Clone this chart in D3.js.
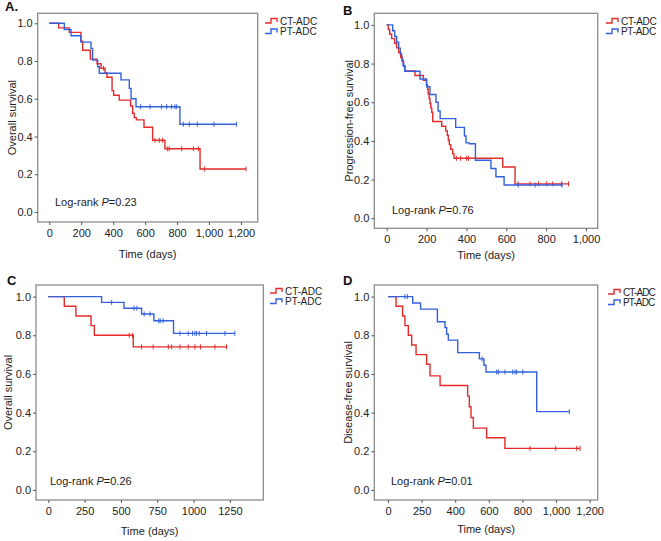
<!DOCTYPE html>
<html>
<head>
<meta charset="utf-8">
<script src="https://cdn.jsdelivr.net/npm/d3@7"></script>
<style>
  body { margin: 0; background: #fff; }
  svg { font-family: "Liberation Sans", Arial, sans-serif; }
</style>
</head>
<body>
<svg id="fig" width="661" height="541"></svg>
<script>
const seriesNames = ["CT-ADC", "PT-ADC"];
const panelLetters = ["A.", "B", "C", "D"];
const yTitles = ["Overall survival", "Progression-free survival", "Overall survival", "Disease-free survival"];
const pValues = ["0.23", "0.76", "0.26", "0.01"];
const yTicks = [0, 0.2, 0.4, 0.6, 0.8, 1.0];

const xTicksA = [0, 200, 400, 600, 800, 1000, 1200];
const xLabelsA = ["0", "200", "400", "600", "800", "1,000", "1,200"];
const xTicksB = [0, 200, 400, 600, 800, 1000];
const xLabelsB = ["0", "200", "400", "600", "800", "1,000"];
const xTicksC = [0, 250, 500, 750, 1000, 1250];
const xLabelsC = ["0", "250", "500", "750", "1000", "1250"];
const xTicksD = [0, 200, 400, 600, 800, 1000, 1200];
const xLabelsD = ["0", "250", "400", "600", "800", "1,000", "1,200"];

// A: overall survival
const aCtTimes = [59, 125, 198, 209, 257, 299, 324, 349, 361, 393, 403, 438, 509, 522, 532, 545, 593, 647, 724, 944];
const aCtSurv = [0.976, 0.952, 0.905, 0.857, 0.810, 0.786, 0.762, 0.738, 0.714, 0.643, 0.619, 0.593, 0.562, 0.523, 0.500, 0.488, 0.449, 0.380, 0.335, 0.228];
const aCtCensor = [340, 662, 689, 710, 739, 751, 829, 902, 933, 971, 1232];
const aPtTimes = [94, 136, 198, 261, 271, 303, 313, 449, 501, 512, 543, 818];
const aPtSurv = [0.967, 0.934, 0.900, 0.867, 0.805, 0.770, 0.735, 0.700, 0.655, 0.600, 0.558, 0.465];
const aPtCensor = [572, 631, 703, 735, 766, 787, 798, 839, 877, 927, 1031, 1173];

// B: progression-free survival
const bCtTimes = [8, 15, 25, 40, 50, 60, 70, 78, 85, 92, 142, 184, 200, 205, 208, 213, 217, 221, 226, 231, 276, 296, 304, 309, 314, 321, 331, 338, 582, 644];
const bCtSurv = [0.976, 0.952, 0.929, 0.905, 0.881, 0.857, 0.833, 0.810, 0.786, 0.762, 0.738, 0.714, 0.690, 0.667, 0.643, 0.619, 0.595, 0.571, 0.548, 0.500, 0.476, 0.452, 0.429, 0.405, 0.381, 0.357, 0.333, 0.310, 0.265, 0.178];
const bCtCensor = [351, 371, 401, 410, 660, 719, 761, 803, 833, 878, 912];
const bPtTimes = [30, 40, 50, 60, 68, 75, 82, 90, 167, 200, 217, 247, 258, 268, 346, 390, 398, 415, 445, 523, 548, 589];
const bPtSurv = [0.970, 0.940, 0.910, 0.880, 0.850, 0.820, 0.790, 0.760, 0.720, 0.680, 0.640, 0.600, 0.555, 0.515, 0.470, 0.425, 0.390, 0.385, 0.300, 0.257, 0.215, 0.172];
const bPtCensor = [660, 744, 880];

// C: overall survival
const cCtTimes = [110, 190, 294, 317, 585];
const cCtSurv = [0.95, 0.90, 0.85, 0.80, 0.74];
const cCtCensor = [557, 580, 642, 722, 826, 849, 906, 963, 1009, 1048, 1147, 1227];
const cPtTimes = [367, 521, 642, 727, 862];
const cPtSurv = [0.97, 0.94, 0.91, 0.875, 0.81];
const cPtCensor = [436, 590, 610, 660, 700, 760, 770, 790, 906, 963, 993, 1009, 1021, 1039, 1089, 1216, 1284];

// D: disease-free survival
const dCtTimes = [48, 87, 101, 121, 141, 167, 230, 250, 310, 474, 484, 494, 508, 587, 696];
const dCtSurv = [0.95, 0.90, 0.85, 0.80, 0.75, 0.70, 0.65, 0.59, 0.54, 0.485, 0.43, 0.375, 0.32, 0.27, 0.215];
const dCtCensor = [845, 998, 1123, 1143];
const dPtTimes = [147, 194, 294, 339, 349, 359, 415, 544, 571, 583, 885];
const dPtSurv = [0.967, 0.935, 0.87, 0.84, 0.805, 0.775, 0.71, 0.678, 0.645, 0.61, 0.405];
const dPtCensor = [101, 115, 560, 647, 657, 696, 742, 756, 766, 802, 1079];

const COLORS = ["#e52a2a", "#3360dd"];
const svg = d3.select("#fig");

const panels = [
  { box: [37.7, 257.7, 13.3, 222], xDom: [-72.6, 1305], yDom: [-0.053, 1.053],
    ticks: xTicksA, labels: xLabelsA,
    series: [[aCtTimes, aCtSurv, aCtCensor], [aPtTimes, aPtSurv, aPtCensor]],
    letter: [5, 11], yTitleX: 12, xTitleY: 258, legend: [265, 21], pText: [55, 206], squeeze: 0 },
  { box: [374.3, 597.7, 13.3, 228.3], xDom: [-62.2, 1058.5], yDom: [-0.052, 1.060],
    ticks: xTicksB, labels: xLabelsB,
    series: [[bCtTimes, bCtSurv, bCtCensor], [bPtTimes, bPtSurv, bPtCensor]],
    letter: [343, 15], yTitleX: 349, xTitleY: 259, legend: [606, 21], pText: [392, 214], squeeze: -0.3 },
  { box: [36, 263.3, 285, 500], xDom: [-84.7, 1480], yDom: [-0.052, 1.060],
    ticks: xTicksC, labels: xLabelsC,
    series: [[cCtTimes, cCtSurv, cCtCensor], [cPtTimes, cPtSurv, cPtCensor]],
    letter: [7, 285], yTitleX: 8, xTitleY: 535, legend: [270, 291], pText: [50, 485], squeeze: 0 },
  { box: [374.3, 597.7, 285, 500], xDom: [-81.5, 1248], yDom: [-0.052, 1.060],
    ticks: xTicksD, labels: xLabelsD,
    series: [[dCtTimes, dCtSurv, dCtCensor], [dPtTimes, dPtSurv, dPtCensor]],
    letter: [343, 285], yTitleX: 348, xTitleY: 533, legend: [608, 292], pText: [391, 485], squeeze: -0.9 }
];

function survAt(times, surv, t) {
  let s = 1;
  times.forEach((tt, i) => { if (tt <= t) s = surv[i]; });
  return s;
}

panels.forEach((p, k) => {
  const [x0, x1, y0, y1] = p.box;
  const x = d3.scaleLinear().domain(p.xDom).range([x0, x1]);
  const y = d3.scaleLinear().domain(p.yDom).range([y1, y0]);
  const g = svg.append("g");

  // frame
  g.append("rect")
    .attr("x", x0).attr("y", y0)
    .attr("width", x1 - x0).attr("height", y1 - y0)
    .attr("fill", "none").attr("stroke", "#8c8c8c").attr("stroke-width", 1.3);

  // axes (ticks only, frame draws the lines)
  const yAxis = g.append("g").attr("transform", `translate(${x0},0)`)
    .call(d3.axisLeft(y).tickValues(yTicks).tickFormat(d3.format(".1f")).tickSize(3).tickPadding(2));
  const xAxis = g.append("g").attr("transform", `translate(0,${y1})`)
    .call(d3.axisBottom(x).tickValues(p.ticks).tickFormat((d, i) => p.labels[i]).tickSize(3).tickPadding(4));
  [yAxis, xAxis].forEach(a => {
    a.select(".domain").remove();
    a.selectAll("line").attr("stroke", "#555");
    a.selectAll("text").attr("fill", "#222").style("font-size", "11px")
      .style("font-family", '"Liberation Sans", Arial, sans-serif');
  });

  // curves
  p.series.forEach(([times, surv, censor], j) => {
    const end = Math.max(d3.max(times), d3.max(censor));
    const pts = [[0, 1]].concat(times.map((t, i) => [t, surv[i]]));
    pts.push([end, surv[surv.length - 1]]);
    g.append("path")
      .attr("d", d3.line().x(d => x(d[0])).y(d => y(d[1])).curve(d3.curveStepAfter)(pts))
      .attr("fill", "none").attr("stroke", COLORS[j]).attr("stroke-width", 1.4);
    g.selectAll(null).data(censor).enter().append("line")
      .attr("x1", d => x(d)).attr("x2", d => x(d))
      .attr("y1", d => y(survAt(times, surv, d)) - 2.5)
      .attr("y2", d => y(survAt(times, surv, d)) + 2.5)
      .attr("stroke", COLORS[j]).attr("stroke-width", 1);
  });

  // titles
  g.append("text").attr("x", p.letter[0]).attr("y", p.letter[1])
    .style("font-size", "13px").style("font-weight", "bold").attr("fill", "#111")
    .text(panelLetters[k]);
  g.append("text")
    .attr("transform", `translate(${p.yTitleX},${(y0 + y1) / 2}) rotate(-90)`)
    .attr("text-anchor", "middle").attr("dy", "0.35em")
    .style("font-size", "11px").attr("fill", "#222").text(yTitles[k]);
  g.append("text").attr("x", (x0 + x1) / 2).attr("y", p.xTitleY)
    .attr("text-anchor", "middle").style("font-size", "11px").attr("fill", "#222")
    .text("Time (days)");

  const pt = g.append("text").attr("x", p.pText[0]).attr("y", p.pText[1])
    .style("font-size", "11px").attr("fill", "#222");
  pt.append("tspan").text("Log-rank ");
  pt.append("tspan").style("font-style", "italic").text("P");
  pt.append("tspan").text("=" + pValues[k]);

  // legend
  seriesNames.forEach((name, j) => {
    const lx = p.legend[0], ly = p.legend[1] + j * 10.5;
    g.append("path")
      .attr("d", `M${lx},${ly + 2}H${lx + 6}V${ly - 2.5}H${lx + 12}V${ly + 1}`)
      .attr("fill", "none").attr("stroke", COLORS[j]).attr("stroke-width", 1.4);
    g.append("text").attr("x", lx + 15).attr("y", ly).attr("dy", "0.35em")
      .style("font-size", "10px").style("letter-spacing", p.squeeze + "px")
      .attr("fill", "#222").text(name);
  });
});
</script>
</body>
</html>
